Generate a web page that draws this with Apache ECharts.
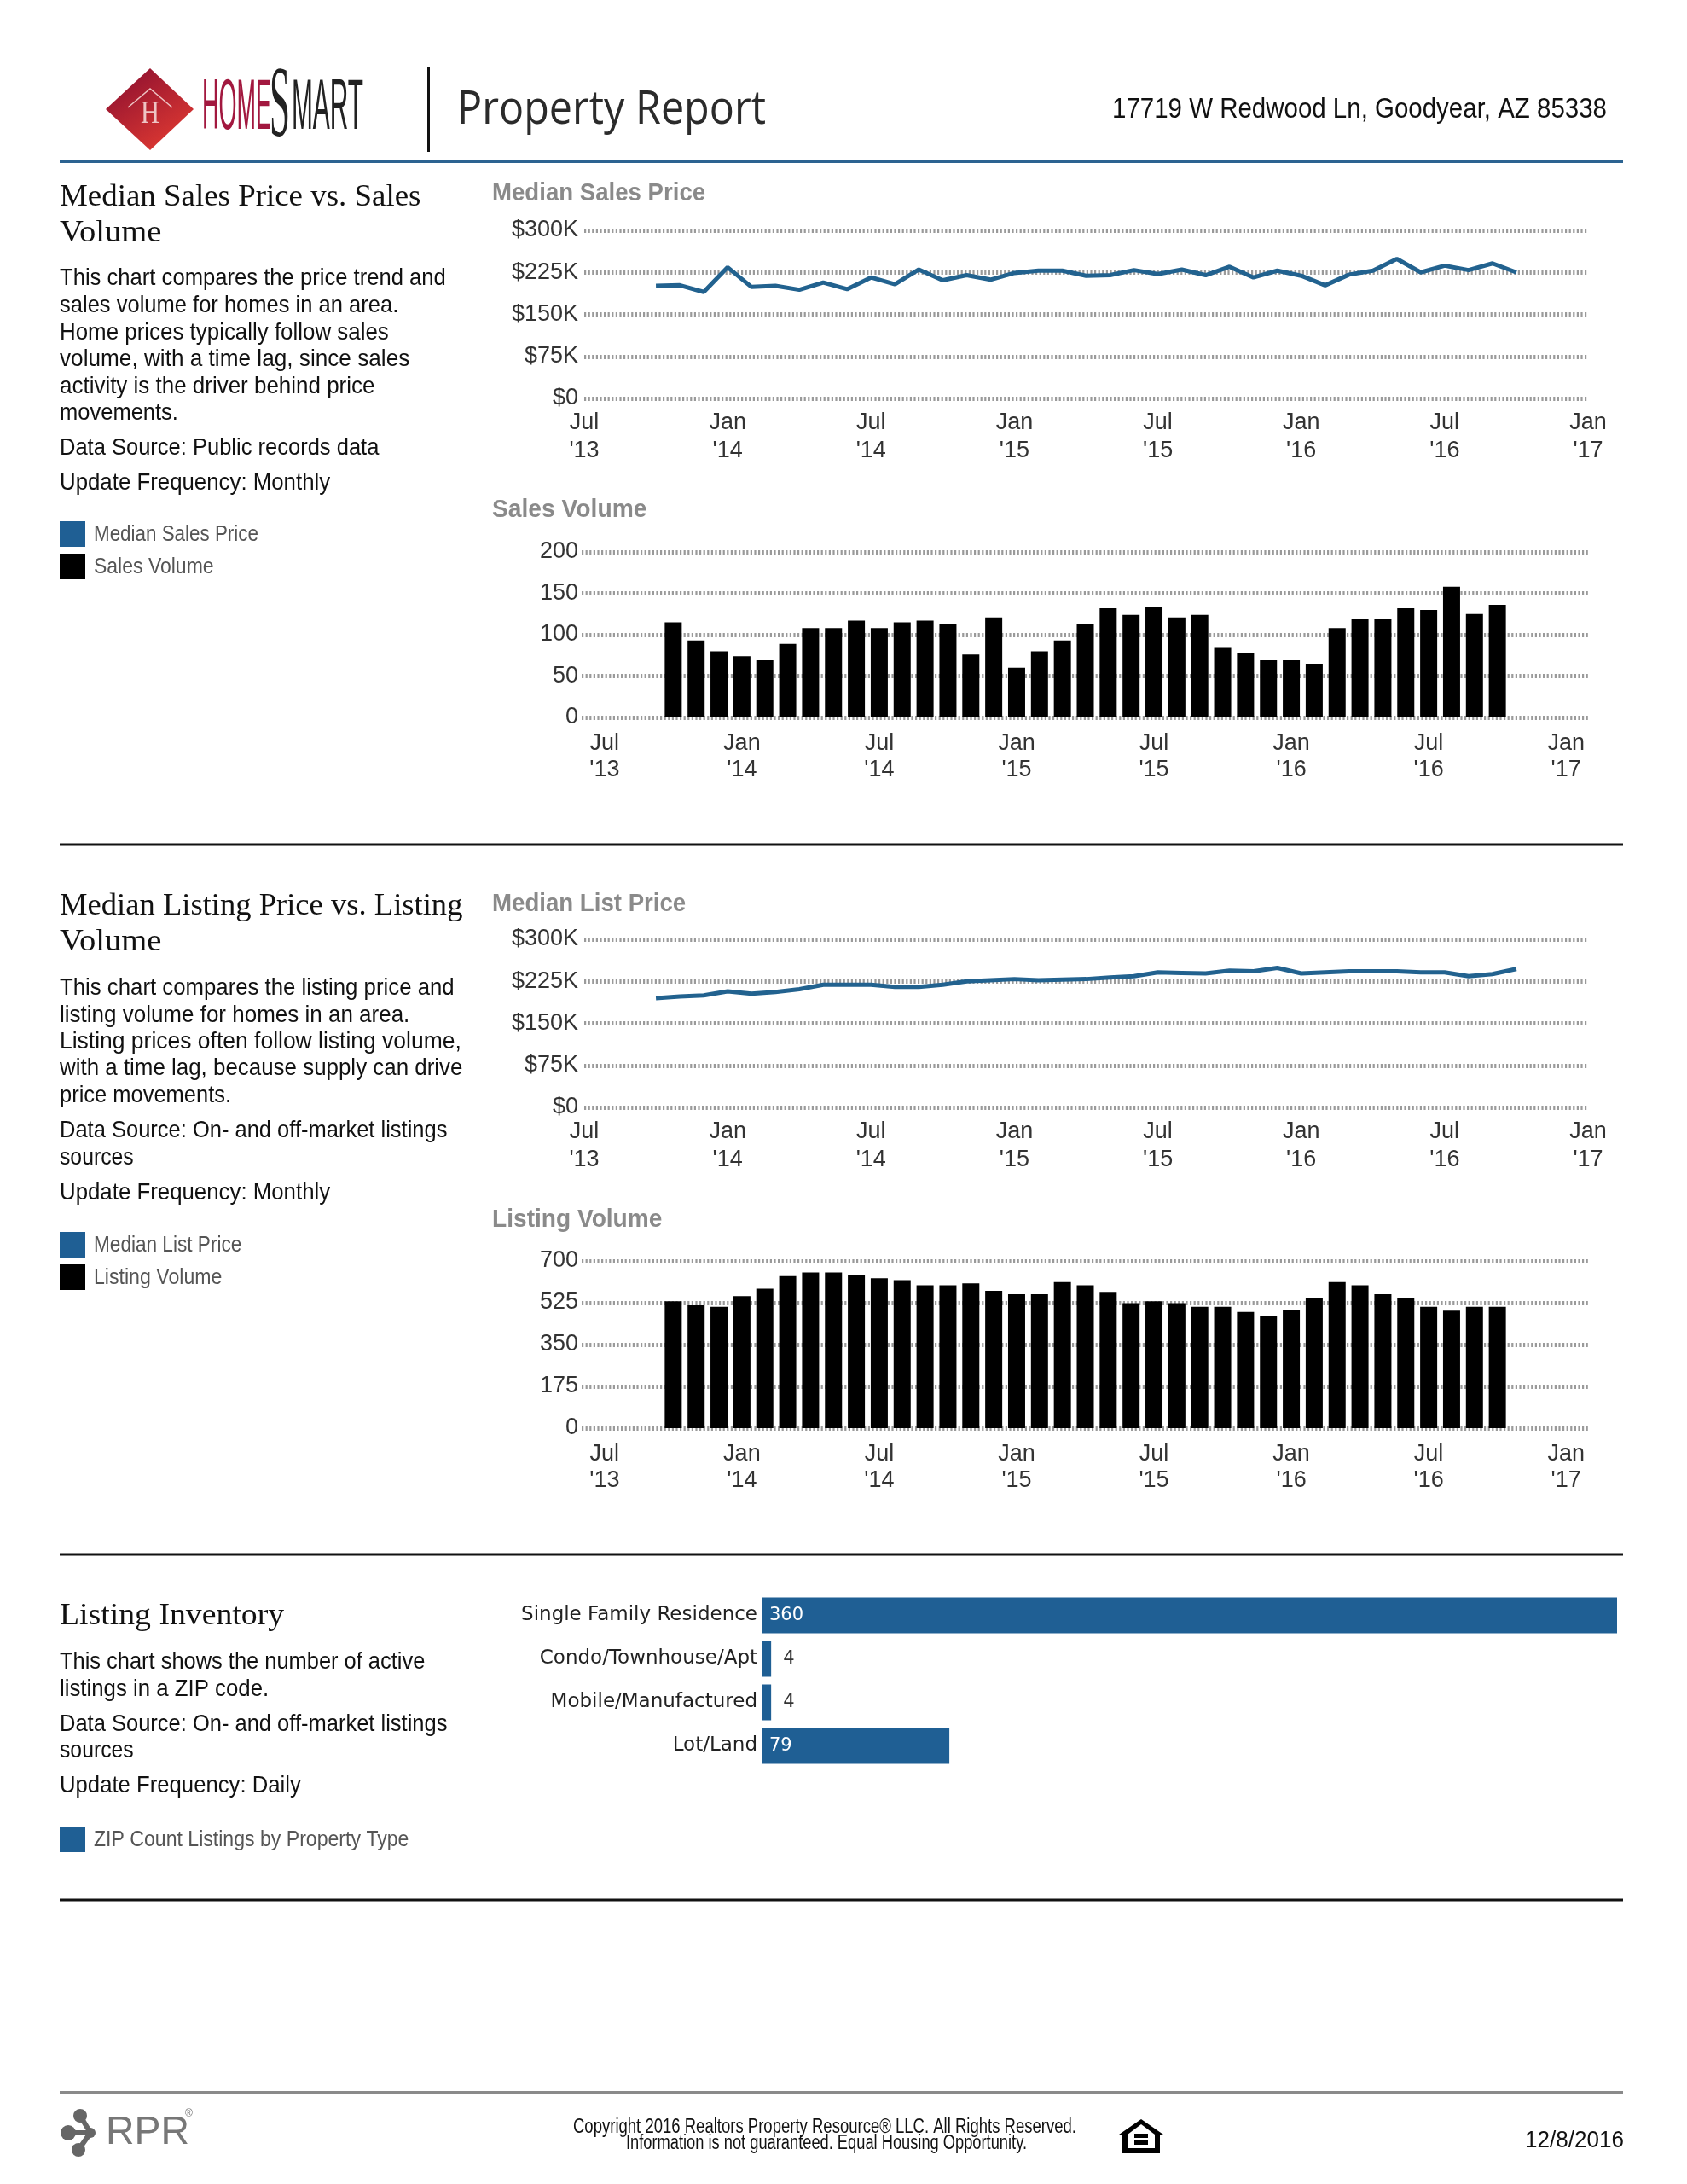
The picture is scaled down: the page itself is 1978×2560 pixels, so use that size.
<!DOCTYPE html>
<html><head><meta charset="utf-8">
<script src="https://cdn.jsdelivr.net/npm/echarts@6/dist/echarts.min.js"></script>
<style>html,body{margin:0;padding:0;background:#fff}#c{width:1978px;height:2560px}</style>
</head><body><div id="c"></div>
<script>
const monthLabels = ["Jul '13","Aug 13","Sep 13","Oct 13","Nov 13","Dec 13","Jan '14","Feb 14","Mar 14","Apr 14","May 14","Jun 14","Jul '14","Aug 14","Sep 14","Oct 14","Nov 14","Dec 14","Jan '15","Feb 15","Mar 15","Apr 15","May 15","Jun 15","Jul '15","Aug 15","Sep 15","Oct 15","Nov 15","Dec 15","Jan '16","Feb 16","Mar 16","Apr 16","May 16","Jun 16","Jul '16","Aug 16","Sep 16","Oct 16","Nov 16","Dec 16","Jan '17"];
const medianSalesPrice = [201,202,190,234,199,201,194,207,195,216,204,230,211,220,212,224,228,228,219,220,229,222,230,220,235,216,228,219,202,221,228,249,225,237,229,241,225];
const salesVolume = [115,93,80,74,69,89,108,108,117,108,115,117,113,76,121,60,80,93,113,132,124,134,121,124,85,78,69,69,65,108,119,119,132,130,158,125,136];
const medianListPrice = [195,198,200,207,203,206,211,219,219,219,215,215,219,225,227,229,227,228,229,232,234,241,240,239,244,243,249,239,241,243,243,243,241,241,234,238,247];
const listingVolume = [531,514,508,553,584,637,652,652,642,628,620,598,598,606,575,561,561,612,598,567,523,531,523,508,508,487,469,495,545,612,598,561,545,508,492,508,508];
const inventoryTypes = ['Single Family Residence','Condo/Townhouse/Apt','Mobile/Manufactured','Lot/Land'];
const inventoryCounts = [360,4,4,79];
const priceTicks = {max:300,interval:75};
const salesTicks = {max:200,interval:50};
const listingTicks = {max:700,interval:175};

const BLUE='#1f5f94', GRID='#9a9a9a', AXIS_TXT='#333', AXFONT='"Liberation Sans"', FONT='"DejaVu Sans"';
const padded=[''].concat(monthLabels,['']);
const lead=a=>[null,null,null].concat(a,[null,null,null]);
const leadBar=a=>[null,null,null,null].concat(a,[null,null,null,null]);

const GL=685,GW=1177;
const grids=[{top:270,h:197,l:GL,w:GW},{top:647,h:194,l:682,w:1181},{top:1101,h:197,l:GL,w:GW},{top:1478,h:196,l:682,w:1181}];

function xAx(i,bar){return{gridIndex:i,type:'category',boundaryGap:false,data:bar?padded:monthLabels,
 axisLine:{show:false},axisTick:{show:false},splitLine:{show:false},
 axisLabel:{interval:(idx,n)=>/^(Jul|Jan) '/.test(n),formatter:n=>n.replace(' ','\n'),color:AXIS_TXT,fontFamily:AXFONT,fontSize:27,lineHeight:bar?31:33,margin:bar?15:12,hideOverlap:false}}}
function yAx(i,t,fmt,margin){return{gridIndex:i,type:'value',min:0,max:t.max,interval:t.interval,
 axisLine:{show:false},axisTick:{show:false},
 axisLabel:{color:AXIS_TXT,fontFamily:AXFONT,fontSize:27,margin:margin,formatter:fmt},
 splitLine:{show:true,lineStyle:{color:GRID,width:5,type:[2.2,2.4]}}}}
const money=v=>v===0?'$0':'$'+v+'K';

const lineS=(i,d)=>({type:'line',xAxisIndex:i,yAxisIndex:i,data:lead(d),showSymbol:false,symbol:'none',connectNulls:false,lineStyle:{color:'#22628f',width:5},z:5,silent:true});
const barS=(i,d)=>({type:'bar',xAxisIndex:i,yAxisIndex:i,data:leadBar(d),barWidth:20,itemStyle:{color:'#000'},z:5,silent:true});

// ---- text helper
const mctx=document.createElement('canvas').getContext('2d');
function fitScale(str,size,family,width,weight){mctx.font=(weight?weight+' ':'')+size+'px '+family;return width/mctx.measureText(str).width;}
function T(x,y,text,o){o=o||{};return{type:'text',x:x,y:y,scaleX:o.sx||1,scaleY:o.sy||1,silent:true,z:o.z||20,
 style:{text:text,fontSize:o.size||27,fontFamily:o.family||'"Liberation Sans"',fontWeight:o.weight||'normal',fill:o.color||'#111',textAlign:o.align||'left',textVerticalAlign:'middle'}}}
function R(x,y,w,h,c,z){return{type:'rect',silent:true,z:z||15,shape:{x:x,y:y,width:w,height:h},style:{fill:c}}}
const SERIF='"Liberation Serif"', SANS='"Liberation Sans"';
const K=1.6347, L=43; // widths below are the line-end positions read from the page
const endW=e=>(e-L)*K;

const sections=[
 {title:[['Median Sales Price vs. Sales',232,302],['Volume',274,116]],
  body:[['This chart compares the price trend and',326,320],['sales volume for homes in an area.',358,286],['Home prices typically follow sales',390,279],['volume, with a time lag, since sales',421,294],['activity is the driver behind price',453,269],['movements.',484,128],['Data Source: Public records data',525,272],['Update Frequency: Monthly',566,237]],
  legend:[['Median Sales Price',BLUE,626,185],['Sales Volume','#000',664,153]]},
 {title:[['Median Listing Price vs. Listing',1063,332],['Volume',1105,116]],
  body:[['This chart compares the listing price and',1158,326],['listing volume for homes in an area.',1190,294],['Listing prices often follow listing volume,',1221,331],['with a time lag, because supply can drive',1252,332],['price movements.',1284,166],['Data Source: On- and off-market listings',1325,321],['sources',1357,96],['Update Frequency: Monthly',1398,237]],
  legend:[['Median List Price',BLUE,1459,173],['Listing Volume','#000',1497,159]]},
 {title:[['Listing Inventory',1895,204]],
  body:[['This chart shows the number of active',1948,305],['listings in a ZIP code.',1980,193],['Data Source: On- and off-market listings',2021,321],['sources',2052,96],['Update Frequency: Daily',2093,216]],
  legend:[['ZIP Count Listings by Property Type',BLUE,2156,293]]}
];
const subTitles=[['Median Sales Price',227,506],['Sales Volume',598,464],['Median List Price',1060,492],['Listing Volume',1430,475]];

const g=[];
sections.forEach(s=>{
 s.title.forEach(t=>g.push(T(70,t[1],t[0],{size:36,family:SERIF,sx:fitScale(t[0],36,SERIF,endW(t[2]))})));
 s.body.forEach(t=>g.push(T(70,t[1],t[0],{size:28,sx:fitScale(t[0],28,SANS,endW(t[2]))})));
 s.legend.forEach(t=>{g.push(R(70,t[2]-15,30,30,t[1]));g.push(T(110,t[2]+1,t[0],{size:25,sx:fitScale(t[0],25,SANS,(t[3]-67)*K),color:'#555'}));});
});
subTitles.forEach(t=>g.push(T(577,t[1],t[0],{size:29,weight:'bold',color:'#8a8a8a',sx:fitScale(t[0],29,SANS,(t[2]-353)*K,'bold')})));

// rules
g.push(R(70,187,1833,4,'#2c6391'));
[990,1822,2227].forEach(y=>g.push(R(70,y-1.5,1833,3,'#111')));
g.push(R(70,2451,1833,3,'#8a8a8a'));

// header
g.push({type:'polygon',silent:true,z:15,shape:{points:[[176,80],[227,128],[176,176],[124,128]]},
 style:{fill:new echarts.graphic.LinearGradient(0.2,0,0.8,1,[{offset:0,color:'#8e1030'},{offset:1,color:'#e23b32'}])}});
g.push({type:'polyline',silent:true,z:16,shape:{points:[[150,126],[176,104],[202,126]]},style:{stroke:'#eec4c4',lineWidth:1.5,fill:null}});
g.push(T(176,134,'H',{size:38,family:SERIF,color:'#eec4c4',align:'center',sx:0.8}));
g.push(T(237,128,'HOME',{size:84,color:'#a2183f',sx:fitScale('HOME',84,SANS,81)}));
g.push(T(316,128,'S',{size:118,family:SERIF,color:'#222',sx:fitScale('S',118,SERIF,24)}));
g.push(T(342,128,'MART',{size:84,color:'#222',sx:fitScale('MART',84,SANS,84)}));
g.push(R(501,78,3,100,'#111'));
g.push(T(536,130,'Property Report',{size:54,family:'"Open Sans"',color:'#2b2b2b',sx:fitScale('Property Report',54,'"Open Sans"',362)}));
const addr='17719 W Redwood Ln, Goodyear, AZ 85338';
g.push(T(1884,129,addr,{size:33,align:'right',sx:fitScale(addr,33,SANS,580)}));

// footer
g.push({type:'polyline',silent:true,z:14,shape:{points:[[94,2480],[106,2500],[92,2520]]},style:{stroke:'#666',lineWidth:6,fill:null}});
g.push({type:'polyline',silent:true,z:14,shape:{points:[[82,2500],[106,2500]]},style:{stroke:'#666',lineWidth:6,fill:null}});
[[94,2480,8],[80,2500,9],[106,2500,6],[92,2520,8]].forEach(c=>g.push({type:'circle',silent:true,z:15,shape:{cx:c[0],cy:c[1],r:c[2]},style:{fill:'#666'}}));
g.push(T(124,2500,'RPR',{size:46,color:'#777',sx:fitScale('RPR',46,SANS,98)}));
g.push(T(217,2478,'®',{size:12,color:'#777'}));
const foot1='Copyright 2016 Realtors Property Resource® LLC. All Rights Reserved.';
const foot2='Information is not guaranteed. Equal Housing Opportunity.';
g.push(T(967,2494,foot1,{size:23,align:'center',sx:fitScale(foot1,23,SANS,590)}));
g.push(T(969,2513,foot2,{size:23,align:'center',sx:fitScale(foot2,23,SANS,470)}));
g.push({type:'polygon',silent:true,z:15,shape:{points:[[1338,2484],[1364,2502],[1360,2502],[1360,2524],[1316,2524],[1316,2502],[1312,2502]]},style:{fill:'#000'}});
g.push({type:'polygon',silent:true,z:16,shape:{points:[[1338,2490],[1354,2502],[1354,2518],[1322,2518],[1322,2502]]},style:{fill:'#fff'}});
g.push(R(1330,2501,16,5,'#000',17));g.push(R(1330,2509,16,5,'#000',17));
g.push(T(1904,2509,'12/8/2016',{size:28,align:'right',sx:fitScale('12/8/2016',28,SANS,116)}));

const option={animation:false,backgroundColor:'#fff',
 grid:grids.map(q=>({left:q.l,width:q.w,top:q.top,height:q.h,containLabel:false,outerBoundsMode:'none'}))
   .concat([{left:893,width:1003,top:1868,height:204,containLabel:false,outerBoundsMode:'none'}]),
 xAxis:[xAx(0,false),xAx(1,true),xAx(2,false),xAx(3,true),
  {gridIndex:4,type:'value',min:0,max:360,show:false}],
 yAxis:[yAx(0,priceTicks,money,7),yAx(1,salesTicks,undefined,4),yAx(2,priceTicks,money,7),yAx(3,listingTicks,undefined,4),
  {gridIndex:4,type:'category',inverse:true,data:inventoryTypes,axisLine:{show:false},axisTick:{show:false},splitLine:{show:false},
   axisLabel:{color:'#222',fontFamily:FONT,fontSize:23,margin:5,interval:0}}],
 series:[lineS(0,medianSalesPrice),barS(1,salesVolume),lineS(2,medianListPrice),barS(3,listingVolume),
  {type:'bar',xAxisIndex:4,yAxisIndex:4,barWidth:42,silent:true,itemStyle:{color:BLUE},
   data:inventoryCounts.map(v=>({value:v,label:v>20?{position:'insideLeft',color:'#fff',distance:9}:{position:'right',color:'#333',distance:14}})),
   label:{show:true,fontFamily:FONT,fontSize:21}}],
 graphic:{elements:g}
};
echarts.init(document.getElementById('c')).setOption(option);
</script></body></html>
